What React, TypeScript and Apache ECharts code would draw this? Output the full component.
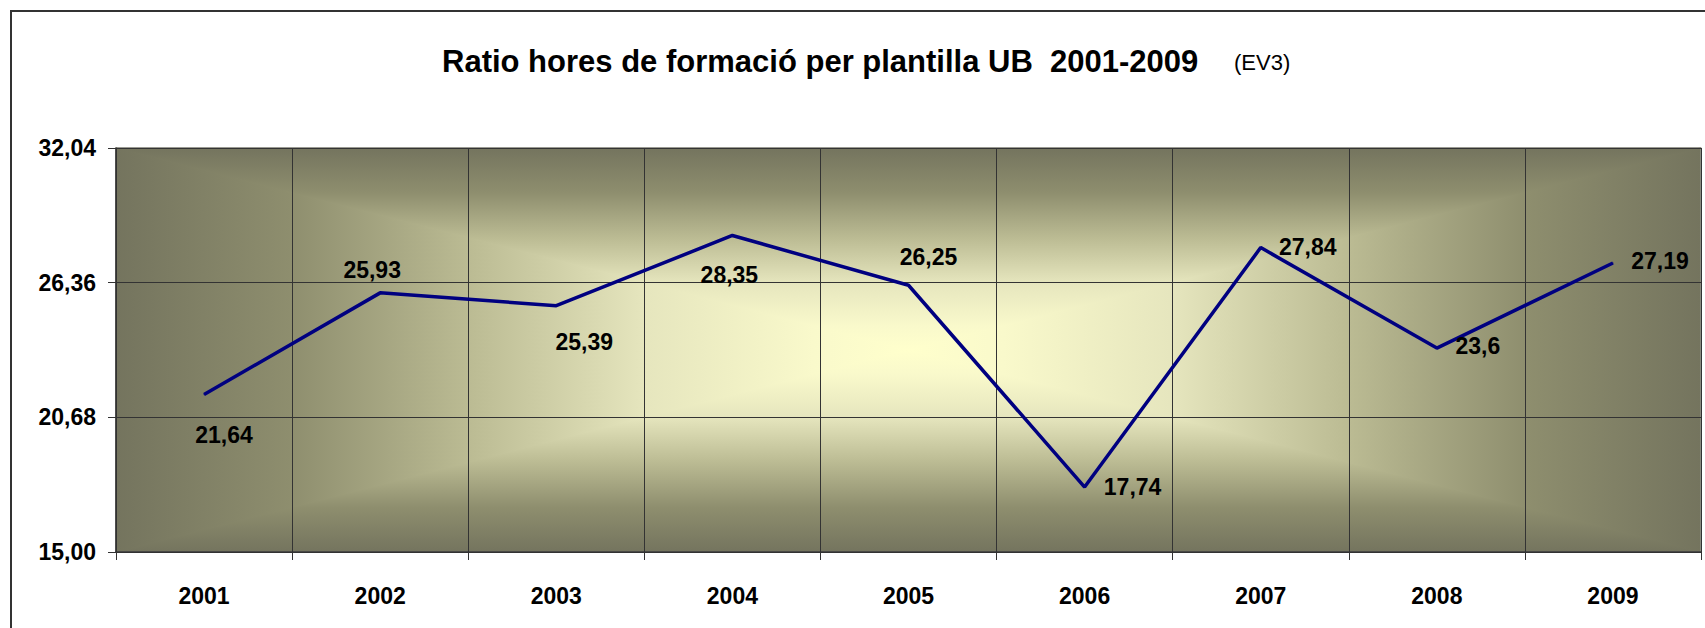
import React, { useEffect, useRef } from "react";
import * as echarts from "echarts";

const years = ["2001", "2002", "2003", "2004", "2005", "2006", "2007", "2008", "2009"];
const ratio = [21.64, 25.93, 25.39, 28.35, 26.25, 17.74, 27.84, 23.6, 27.19];
const yTicks = [15.0, 20.68, 26.36, 32.04];
const labelOffsets: [number, number][] = [
  [20, 40], [-8, -23], [28, 36], [-3, 40], [20, -28], [48, 0], [47, -1], [41, -2], [47, -2],
];

const W = 1705;
const H = 628;
const GRID = { left: 116, top: 148, right: 4, bottom: 76 };
const FONT = 'Arial, "Liberation Sans", sans-serif';

const fmt = (v: number) => v.toFixed(2).replace(".", ",");

export default function App() {
  const ref = useRef<HTMLDivElement>(null);
  useEffect(() => {
    document.body.style.margin = "0";
    if (!ref.current) return;
    const chart = echarts.init(ref.current, null, { renderer: "svg" });

    const x0 = GRID.left, x1 = W - GRID.right, y0 = GRID.top, y1 = H - GRID.bottom;
    const cx = (x0 + x1) / 2, cy = (y0 + y1) / 2;
    const stopsEdgeToCenter = [
      { offset: 0, color: "#74745E" },
      { offset: 0.22, color: "#8E8E6E" },
      { offset: 0.45, color: "#BCBC94" },
      { offset: 0.67, color: "#E6E6BE" },
      { offset: 0.88, color: "#F9F9CB" },
      { offset: 1, color: "#FFFFCC" },
    ];
    const stopsCenterToEdge = stopsEdgeToCenter
      .map((s) => ({ offset: 1 - s.offset, color: s.color }))
      .reverse();
    const LG = echarts.graphic.LinearGradient;

    const tri = (points: number[][], horizontal: boolean, edgeFirst: boolean) => {
      const stops = edgeFirst ? stopsEdgeToCenter : stopsCenterToEdge;
      const g = () => (horizontal ? new LG(0, 0, 1, 0, stops) : new LG(0, 0, 0, 1, stops));
      return {
        type: "polygon",
        z: -10,
        silent: true,
        shape: { points },
        style: { fill: g(), stroke: g(), lineWidth: 1.5, lineJoin: "bevel" },
      };
    };

    const option: any = {
      animation: false,
      backgroundColor: "#ffffff",
      title: [
        {
          text: "Ratio hores de formació per plantilla UB  2001-2009",
          left: 442,
          top: 46,
          padding: 0,
          textStyle: { fontFamily: FONT, fontSize: 31, fontWeight: "bold", color: "#000" },
        },
        {
          text: "(EV3)",
          left: 1234,
          top: 51,
          padding: 0,
          textStyle: { fontFamily: FONT, fontSize: 22, fontWeight: "normal", color: "#000" },
        },
      ],
      graphic: [
        tri([[x0, y0], [x1, y0], [cx, cy]], false, true),
        tri([[x0, y1], [x1, y1], [cx, cy]], false, false),
        tri([[x0, y0], [x0, y1], [cx, cy]], true, true),
        tri([[x1, y0], [x1, y1], [cx, cy]], true, false),
        {
          type: "rect",
          z: -5,
          silent: true,
          shape: { x: 11, y: 11, width: 2000, height: 1000 },
          style: { fill: "none", stroke: "#333333", lineWidth: 2 },
        },
      ],
      grid: {
        left: GRID.left,
        right: GRID.right,
        top: GRID.top,
        bottom: GRID.bottom,
        containLabel: false,
        outerBoundsMode: "none",
        show: true,
        borderColor: "#a0a0a0",
        borderWidth: 1,
        backgroundColor: "transparent",
      },
      xAxis: {
        type: "category",
        data: years,
        boundaryGap: true,
        axisLine: { show: true, lineStyle: { color: "#333", width: 1.5 } },
        axisTick: { show: true, length: 8, interval: 0, alignWithLabel: false, lineStyle: { color: "#333" } },
        axisLabel: {
          interval: 0,
          margin: 32,
          fontFamily: FONT,
          fontSize: 23,
          fontWeight: "bold",
          color: "#000",
        },
        splitLine: { show: true, interval: 0, lineStyle: { color: "#333", width: 1 } },
      },
      yAxis: {
        type: "value",
        min: yTicks[0],
        max: yTicks[yTicks.length - 1],
        axisLine: { show: true, lineStyle: { color: "#333", width: 1.5 } },
        axisTick: { show: true, length: 8, customValues: yTicks, lineStyle: { color: "#333" } },
        axisLabel: {
          customValues: yTicks,
          margin: 20,
          formatter: (v: number) => fmt(v),
          fontFamily: FONT,
          fontSize: 23,
          fontWeight: "bold",
          color: "#000",
        },
        splitLine: { show: true, lineStyle: { color: "#333", width: 1 } },
      },
      series: [
        {
          type: "line",
          data: ratio.map((v, i) => ({
            value: v,
            label: { offset: labelOffsets[i] },
          })),
          symbol: "circle",
          symbolSize: 1,
          showSymbol: true,
          itemStyle: { color: "#000080" },
          lineStyle: { color: "#000080", width: 3.5 },
          label: {
            show: true,
            position: "inside",
            align: "center",
            verticalAlign: "middle",
            formatter: (p: any) => String(p.value).replace(".", ","),
            fontFamily: FONT,
            fontSize: 23,
            fontWeight: "bold",
            color: "#000",
          },
          z: 5,
        },
      ],
    };
    chart.setOption(option);
    return () => chart.dispose();
  }, []);
  return <div ref={ref} style={{ width: W, height: H }} />;
}
